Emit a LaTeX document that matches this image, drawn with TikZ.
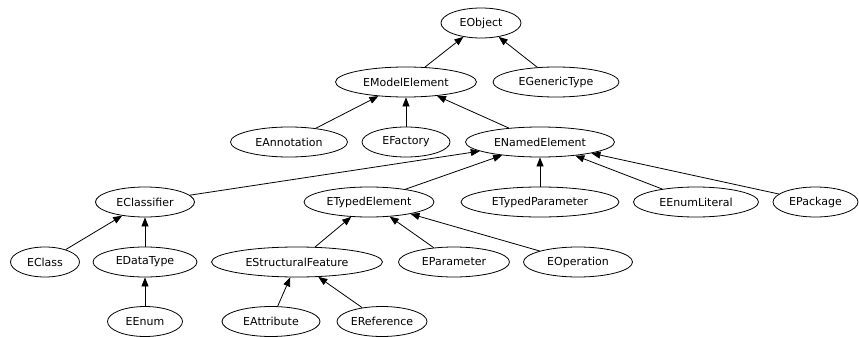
\documentclass[tikz,border=0pt]{standalone}
\usepackage{fontspec}
\setmainfont{DejaVu Sans}
\usetikzlibrary{shapes.geometric,arrows.meta}
\tikzset{
  cls/.style={ellipse,draw,line width=0.8pt,inner sep=0pt,minimum height=30pt,font=\fontsize{11}{13}\selectfont},
  inh/.style={-{Triangle[length=9pt,width=7pt]},line width=0.8pt}
}
\begin{document}
\begin{tikzpicture}[x=1pt,y=-1pt]
\useasboundingbox (0,0) rectangle (859,337);
\node[cls,minimum width=80pt] (eobject) at (481,23) {EObject};
\node[cls,minimum width=141pt] (emodel) at (406,82) {EModelElement};
\node[cls,minimum width=126pt] (egeneric) at (556,82) {EGenericType};
\node[cls,minimum width=117pt] (eannot) at (289,142) {EAnnotation};
\node[cls,minimum width=88pt] (efactory) at (406,142) {EFactory};
\node[cls,minimum width=149pt] (enamed) at (540,142) {ENamedElement};
\node[cls,minimum width=99pt] (eclassifier) at (145,202) {EClassifier};
\node[cls,minimum width=130pt] (etyped) at (369,202) {ETypedElement};
\node[cls,minimum width=158pt] (etypedparam) at (540,202) {ETypedParameter};
\node[cls,minimum width=125pt] (eenumlit) at (696,202) {EEnumLiteral};
\node[cls,minimum width=85pt] (epackage) at (815.5,202) {EPackage};
\node[cls,minimum width=69pt] (eclass) at (45,262) {EClass};
\node[cls,minimum width=104pt] (edatatype) at (145,262) {EDataType};
\node[cls,minimum width=171pt] (estruct) at (297,262) {EStructuralFeature};
\node[cls,minimum width=111pt] (eparam) at (454,262) {EParameter};
\node[cls,minimum width=109pt] (eop) at (578,262) {EOperation};
\node[cls,minimum width=75pt] (eenum) at (145,321.5) {EEnum};
\node[cls,minimum width=98pt] (eattr) at (271,321.5) {EAttribute};
\node[cls,minimum width=90pt] (eref) at (382,321.5) {EReference};
\draw[inh] (emodel) -- (eobject);
\draw[inh] (egeneric) -- (eobject);
\draw[inh] (eannot) -- (emodel);
\draw[inh] (efactory) -- (emodel);
\draw[inh] (enamed) -- (emodel);
\draw[inh] (eclassifier) -- (enamed);
\draw[inh] (etyped) -- (enamed);
\draw[inh] (etypedparam) -- (enamed);
\draw[inh] (eenumlit) -- (enamed);
\draw[inh] (epackage) -- (enamed);
\draw[inh] (eclass) -- (eclassifier);
\draw[inh] (edatatype) -- (eclassifier);
\draw[inh] (estruct) -- (etyped);
\draw[inh] (eparam) -- (etyped);
\draw[inh] (eop) -- (etyped);
\draw[inh] (eenum) -- (edatatype);
\draw[inh] (eattr) -- (estruct);
\draw[inh] (eref) -- (estruct);
\end{tikzpicture}
\end{document}
